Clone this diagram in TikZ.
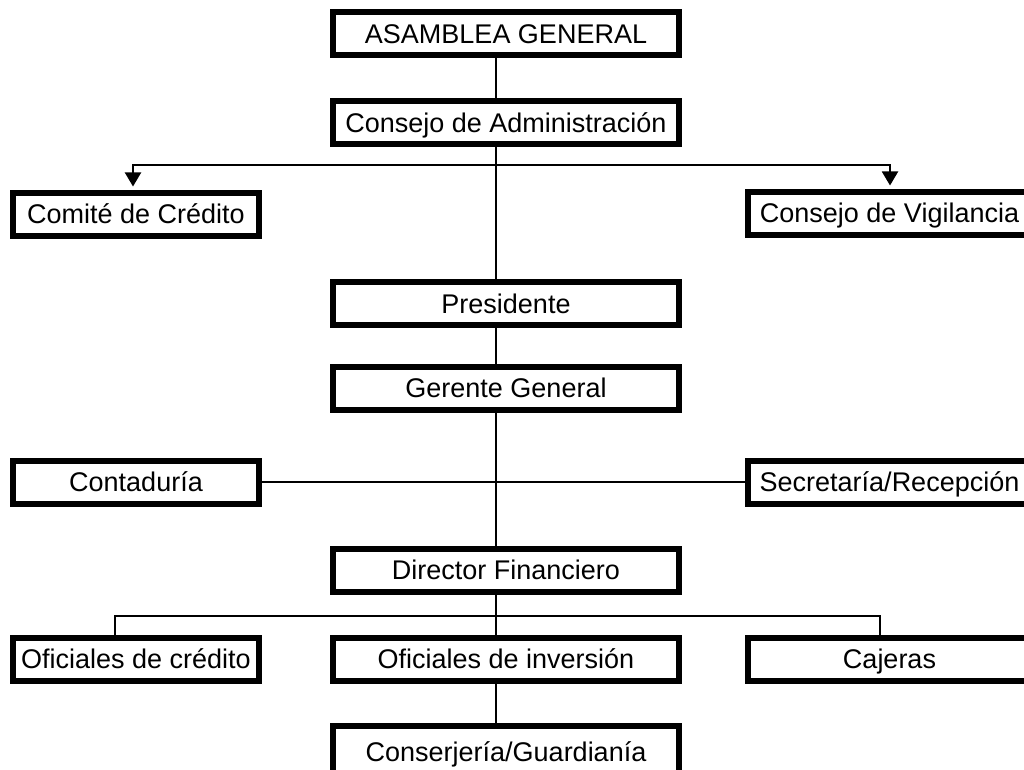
\documentclass[tikz,border=0pt]{standalone}
\usepackage{fontspec}
\setmainfont{Liberation Sans}
\usetikzlibrary{arrows.meta}
\begin{document}
\begin{tikzpicture}[x=1pt,y=-1pt,
  box/.style={draw, line width=6pt, fill=white, inner sep=0pt, font=\fontsize{27}{30}\selectfont, text height=25pt, text depth=5.7pt, minimum height=43pt},
  cbox/.style={box, minimum width=346pt},
  lbox/.style={box, minimum width=246pt},
  rbox/.style={box, minimum width=283pt},
  conn/.style={line width=2pt},
  arr/.style={conn, -{Triangle[width=16pt,length=14pt]}, shorten >=3pt}
]
\clip (0,0) rectangle (1024,770);
\fill[white] (0,0) rectangle (1024,770);
\node[cbox] (asamblea) at (506,33.5) {ASAMBLEA GENERAL};
\node[cbox] (consejo) at (506,123) {Consejo de Administración};
\node[lbox] (comite) at (136,214) {Comité de Crédito};
\node[rbox] (vigilancia) at (889.5,213) {Consejo de Vigilancia};
\node[cbox] (presidente) at (506,303.5) {Presidente};
\node[cbox] (gerente) at (506,388) {Gerente General};
\node[lbox] (contaduria) at (136,482) {Contaduría};
\node[rbox] (secretaria) at (889.5,482) {Secretaría/Recepción};
\node[cbox] (director) at (506,570) {Director Financiero};
\node[lbox] (ofcredito) at (136,659) {Oficiales de crédito};
\node[cbox] (ofinversion) at (506,659) {Oficiales de inversión};
\node[rbox] (cajeras) at (889.5,659) {Cajeras};
\node[cbox, minimum height=52pt] (conserjeria) at (506,752) {Conserjería/Guardianía};
\coordinate (spine) at (496,0);
\coordinate (split1) at (496,165);
\coordinate (split2) at (496,616);
\coordinate (lx) at (133,0);
\coordinate (rx) at (890,0);
\coordinate (lx2) at (115,0);
\coordinate (rx2) at (880,0);
\draw[conn] (asamblea.south -| spine) -- (consejo.north -| spine);
\draw[conn] (consejo.south -| spine) -- (presidente.north -| spine);
\draw[arr] (split1) -| (comite.north -| lx);
\draw[arr] (split1) -| (vigilancia.north -| rx);
\draw[conn] (presidente.south -| spine) -- (gerente.north -| spine);
\draw[conn] (gerente.south -| spine) -- (director.north -| spine);
\draw[conn] (contaduria.east) -- (secretaria.west);
\draw[conn] (director.south -| spine) -- (ofinversion.north -| spine);
\draw[conn] (ofcredito.north -| lx2) |- (split2);
\draw[conn] (split2) -| (cajeras.north -| rx2);
\draw[conn] (ofinversion.south -| spine) -- (conserjeria.north -| spine);
\end{tikzpicture}
\end{document}
